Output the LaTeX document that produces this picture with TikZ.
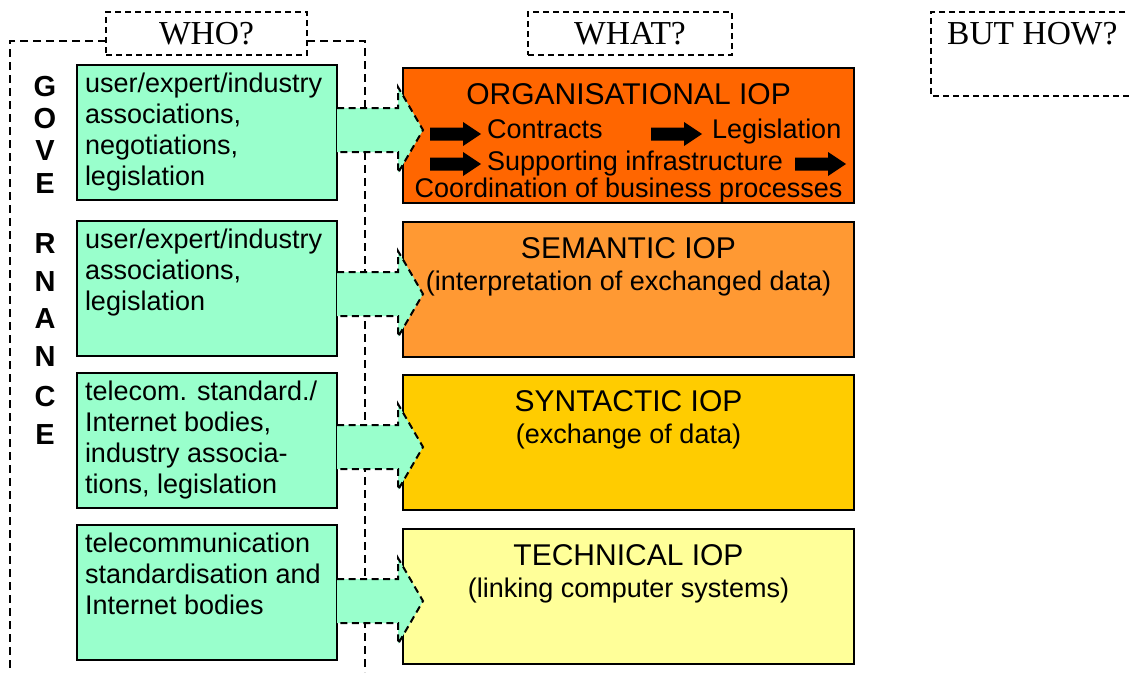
\documentclass[tikz,border=0pt]{standalone}
\usepackage{fontspec}
\setmainfont{Liberation Sans}
\newfontfamily\qfont{Liberation Serif}
\definecolor{grnc}{RGB}{153,255,204}
\definecolor{orgc}{RGB}{255,102,0}
\definecolor{semc}{RGB}{255,153,51}
\definecolor{sync}{RGB}{255,204,0}
\definecolor{tecc}{RGB}{255,255,153}
\begin{document}
\begin{tikzpicture}[x=1pt,y=-1pt,line join=miter,
  frame/.style={dash pattern=on 8pt off 5pt,line width=2.1pt},
  qline/.style={dash pattern=on 6pt off 4pt,line width=1.4pt},
  qbox/.style={draw,qline,minimum width=201pt,minimum height=43pt,inner sep=0pt,outer sep=0pt,font=\qfont\fontsize{33.5}{38}\selectfont},
  gov/.style={inner sep=0pt,font=\bfseries\fontsize{29}{31}\selectfont},
  grp/.style={draw,line width=2pt,fill=grnc,anchor=north west,inner sep=8pt,outer sep=0pt,font=\fontsize{27}{31}\selectfont},
  iop/.style={draw,line width=2pt,anchor=north west,minimum width=451pt,minimum height=135pt,inner sep=0pt,outer sep=0pt},
  hd/.style={anchor=base,inner sep=0pt,font=\fontsize{30}{34}\selectfont},
  txt/.style={anchor=base,inner sep=0pt,font=\fontsize{27}{31}\selectfont},
  grnarr/.style={fill=grnc,draw,dash pattern=on 7pt off 4.5pt,line width=2pt},
  blkarr/.style={fill=black}]
\useasboundingbox (0,0) rectangle (1129,672);
\node[qbox] (who) at (206.5,33.5) {WHO?};
\node[qbox,minimum width=204pt] (what) at (630,33.5) {WHAT?};
\node[anchor=west,inner sep=0pt,font=\qfont\fontsize{33.5}{38}\selectfont] (how) at (947,34) {BUT HOW?};
\draw[qline] (1135,12) -- (931,12) -- (931,96) -- (1135,96);
\draw[frame] (who.west |- 0,41) -- (10,41) -- (10,672);
\draw[frame] (who.east |- 0,41) -- (365,41) -- (365,672);
\foreach \l/\y [count=\i] in {G/87,O/119,V/151,E/184,R/244,N/282,A/319,N/357,C/397,E/435}
\node[gov] (gov\i) at (45,\y) {\l};
\node[grp] (grp1) at (77,65) {\parbox[c][119pt][t]{244pt}{user/expert/industry\\associations,\\negotiations,\\legislation}};
\node[grp] (grp2) at (77,221) {\parbox[c][119pt][t]{244pt}{user/expert/industry\\associations,\\legislation}};
\node[grp] (grp3) at (77,373) {\parbox[c][119pt][t]{244pt}{telecom. standard./\\Internet bodies,\\industry associa-\\tions, legislation}};
\node[grp] (grp4) at (77,525) {\parbox[c][119pt][t]{244pt}{telecommunication\\standardisation and\\Internet bodies}};
\node[iop,fill=orgc] (iop1) at (403,68) {};
\node[iop,fill=semc] (iop2) at (403,222) {};
\node[iop,fill=sync] (iop3) at (403,375) {};
\node[iop,fill=tecc] (iop4) at (403,529) {};
\foreach \n/\t in {iop1/ORGANISATIONAL IOP,iop2/SEMANTIC IOP,iop3/SYNTACTIC IOP,iop4/TECHNICAL IOP}
\node[hd] (h\n) at ([yshift=-36pt]\n.north) {\t};
\foreach \n/\t in {iop2/(interpretation of exchanged data),iop3/(exchange of data),iop4/(linking computer systems)}
\node[txt] (s\n) at ([yshift=-68pt]\n.north) {\t};
\node[txt,anchor=base west] (ctr) at (487,138) {Contracts};
\node[txt,anchor=base west] (leg) at (712,138) {Legislation};
\node[txt,anchor=base west] (sup) at (487,170) {Supporting infrastructure};
\node[txt] (coo) at ([yshift=-129pt]iop1.north) {Coordination of business processes};
\foreach \x/\y in {430/134,651/134,430/164,795/164}
\fill[blkarr] (\x,{\y-6.5}) -- ({\x+33},{\y-6.5}) -- ({\x+33},{\y-12}) -- ({\x+51},\y) -- ({\x+33},{\y+12}) -- ({\x+33},{\y+6.5}) -- (\x,{\y+6.5}) -- cycle;
\foreach \g/\i/\y in {grp1/iop1/130,grp2/iop2/294,grp3/iop3/447,grp4/iop4/601}{
\coordinate (tip\i) at ([xshift=20pt]\i.west |- 0,\y);
\path[grnarr] ([yshift=22pt]\g.east |- 0,\y) -- ([xshift=-25pt,yshift=22pt]tip\i) -- ([xshift=-25pt,yshift=43pt]tip\i) -- (tip\i) -- ([xshift=-25pt,yshift=-43pt]tip\i) -- ([xshift=-25pt,yshift=-22pt]tip\i) -- ([yshift=-22pt]\g.east |- 0,\y);
}
\end{tikzpicture}
\end{document}
